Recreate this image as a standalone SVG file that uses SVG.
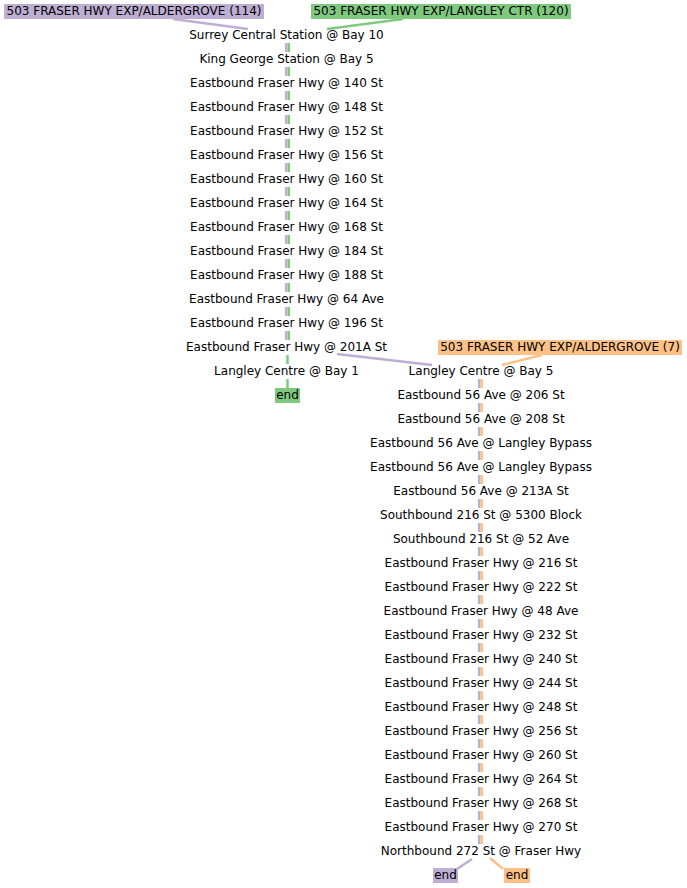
<svg xmlns="http://www.w3.org/2000/svg" width="687" height="888" viewBox="0 0 687 888">
<style>
text{font-family:"DejaVu Sans",sans-serif;font-size:12px;fill:#000;text-anchor:middle}
.p{stroke:#beaed4;stroke-width:2.5;fill:none}
.g{stroke:#7fc97f;stroke-width:2.5;fill:none}
.o{stroke:#fdc086;stroke-width:2.5;fill:none}
.bp{fill:#beaed4}.bg{fill:#7fc97f}.bo{fill:#fdc086}
</style>
<rect width="687" height="888" fill="#fff"/>
<g id="connectors">
<line class="p" x1="173" y1="19" x2="248" y2="29"/>
<line class="g" x1="403" y1="19" x2="327" y2="29"/>
<path class="p" d="M286.2 43V52M286.2 67V76M286.2 91V100M286.2 115V124M286.2 139V148M286.2 163V172M286.2 187V196M286.2 211V220M286.2 235V244M286.2 259V268M286.2 283V292M286.2 307V316M286.2 331V340"/>
<path class="g" d="M288.8 43V52M288.8 67V76M288.8 91V100M288.8 115V124M288.8 139V148M288.8 163V172M288.8 187V196M288.8 211V220M288.8 235V244M288.8 259V268M288.8 283V292M288.8 307V316M288.8 331V340"/>
<path class="g" d="M287.5 355V364M287.5 379V388"/>
<line class="p" x1="337" y1="354" x2="432" y2="365"/>
<line class="o" x1="542" y1="355" x2="502" y2="365"/>
<path class="p" d="M479.2 379V388M479.2 403V412M479.2 427V436M479.2 451V460M479.2 475V484M479.2 499V508M479.2 523V532M479.2 547V556M479.2 571V580M479.2 595V604M479.2 619V628M479.2 643V652M479.2 667V676M479.2 691V700M479.2 715V724M479.2 739V748M479.2 763V772M479.2 787V796M479.2 811V820M479.2 835V844"/>
<path class="o" d="M481.7 379V388M481.7 403V412M481.7 427V436M481.7 451V460M481.7 475V484M481.7 499V508M481.7 523V532M481.7 547V556M481.7 571V580M481.7 595V604M481.7 619V628M481.7 643V652M481.7 667V676M481.7 691V700M481.7 715V724M481.7 739V748M481.7 763V772M481.7 787V796M481.7 811V820M481.7 835V844"/>
<line class="p" x1="472" y1="859" x2="457" y2="869"/>
<line class="o" x1="490" y1="858" x2="503" y2="869"/>
</g>
<g id="label114"><rect class="bp" x="4" y="4" width="260" height="15"/><text x="134" y="15">503 FRASER HWY EXP/ALDERGROVE (114)</text></g>
<g id="label120"><rect class="bg" x="311" y="4" width="260" height="15"/><text x="441" y="15">503 FRASER HWY EXP/LANGLEY CTR (120)</text></g>
<g id="label7"><rect class="bo" x="438" y="340" width="244" height="15"/><text x="560" y="351">503 FRASER HWY EXP/ALDERGROVE (7)</text></g>
<g id="L1"><text x="286.5" y="39">Surrey Central Station @ Bay 10</text></g>
<g id="L2"><text x="286.5" y="63">King George Station @ Bay 5</text></g>
<g id="L3"><text x="286.5" y="87">Eastbound Fraser Hwy @ 140 St</text></g>
<g id="L4"><text x="286.5" y="111">Eastbound Fraser Hwy @ 148 St</text></g>
<g id="L5"><text x="286.5" y="135">Eastbound Fraser Hwy @ 152 St</text></g>
<g id="L6"><text x="286.5" y="159">Eastbound Fraser Hwy @ 156 St</text></g>
<g id="L7"><text x="286.5" y="183">Eastbound Fraser Hwy @ 160 St</text></g>
<g id="L8"><text x="286.5" y="207">Eastbound Fraser Hwy @ 164 St</text></g>
<g id="L9"><text x="286.5" y="231">Eastbound Fraser Hwy @ 168 St</text></g>
<g id="L10"><text x="286.5" y="255">Eastbound Fraser Hwy @ 184 St</text></g>
<g id="L11"><text x="286.5" y="279">Eastbound Fraser Hwy @ 188 St</text></g>
<g id="L12"><text x="286.5" y="303">Eastbound Fraser Hwy @ 64 Ave</text></g>
<g id="L13"><text x="286.5" y="327">Eastbound Fraser Hwy @ 196 St</text></g>
<g id="L14"><text x="286.5" y="351">Eastbound Fraser Hwy @ 201A St</text></g>
<g id="L15"><text x="286.5" y="375">Langley Centre @ Bay 1</text></g>
<g id="Lend"><rect class="bg" x="275" y="388" width="25" height="15"/><text x="287.5" y="399">end</text></g>
<g id="R15"><text x="481" y="375">Langley Centre @ Bay 5</text></g>
<g id="R16"><text x="481" y="399">Eastbound 56 Ave @ 206 St</text></g>
<g id="R17"><text x="481" y="423">Eastbound 56 Ave @ 208 St</text></g>
<g id="R18"><text x="481" y="447">Eastbound 56 Ave @ Langley Bypass</text></g>
<g id="R19"><text x="481" y="471">Eastbound 56 Ave @ Langley Bypass</text></g>
<g id="R20"><text x="481" y="495">Eastbound 56 Ave @ 213A St</text></g>
<g id="R21"><text x="481" y="519">Southbound 216 St @ 5300 Block</text></g>
<g id="R22"><text x="481" y="543">Southbound 216 St @ 52 Ave</text></g>
<g id="R23"><text x="481" y="567">Eastbound Fraser Hwy @ 216 St</text></g>
<g id="R24"><text x="481" y="591">Eastbound Fraser Hwy @ 222 St</text></g>
<g id="R25"><text x="481" y="615">Eastbound Fraser Hwy @ 48 Ave</text></g>
<g id="R26"><text x="481" y="639">Eastbound Fraser Hwy @ 232 St</text></g>
<g id="R27"><text x="481" y="663">Eastbound Fraser Hwy @ 240 St</text></g>
<g id="R28"><text x="481" y="687">Eastbound Fraser Hwy @ 244 St</text></g>
<g id="R29"><text x="481" y="711">Eastbound Fraser Hwy @ 248 St</text></g>
<g id="R30"><text x="481" y="735">Eastbound Fraser Hwy @ 256 St</text></g>
<g id="R31"><text x="481" y="759">Eastbound Fraser Hwy @ 260 St</text></g>
<g id="R32"><text x="481" y="783">Eastbound Fraser Hwy @ 264 St</text></g>
<g id="R33"><text x="481" y="807">Eastbound Fraser Hwy @ 268 St</text></g>
<g id="R34"><text x="481" y="831">Eastbound Fraser Hwy @ 270 St</text></g>
<g id="R35"><text x="481" y="855">Northbound 272 St @ Fraser Hwy</text></g>
<g id="Rend1"><rect class="bp" x="433" y="868" width="25" height="15"/><text x="445.5" y="879">end</text></g>
<g id="Rend2"><rect class="bo" x="504" y="868" width="26" height="15"/><text x="517" y="879">end</text></g>
</svg>
